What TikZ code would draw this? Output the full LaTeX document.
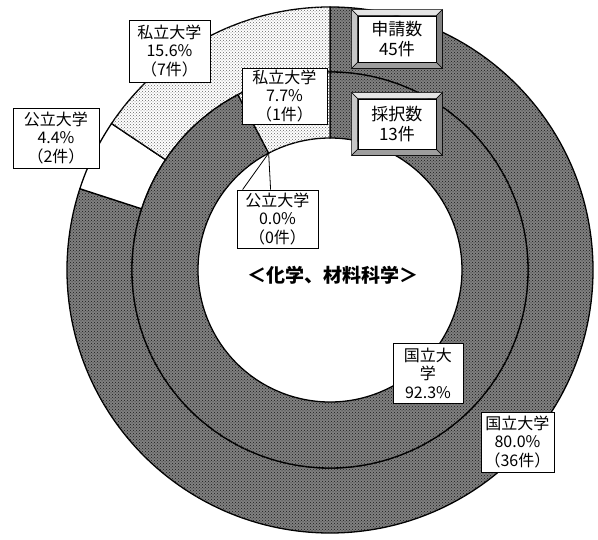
\documentclass[tikz,border=0pt]{standalone}
\usepackage{fontspec}
\setmainfont{Noto Sans CJK JP}
\usetikzlibrary{patterns,calc}
\newcommand{\ringseg}[5]{%
  \path[#1] (#2:#5) arc[start angle=#2, end angle=#3, radius=#5] -- (#3:#4) arc[start angle=#3, end angle=#2, radius=#4] -- cycle;}
\newcommand{\bevbox}[5]{%
  \node[minimum width=#3, minimum height=#4, inner sep=0pt, draw, line width=0.8pt] (#1) at (#2) {};
  \draw[line width=0.6pt, fill=black!10] (#1.north west) -- (#1.north east) -- ($(#1.north east)+(-6,-6)$) -- ($(#1.north west)+(6,-6)$) -- cycle;
  \draw[line width=0.6pt, fill=black!22] (#1.north west) -- ($(#1.north west)+(6,-6)$) -- ($(#1.south west)+(6,6)$) -- (#1.south west) -- cycle;
  \draw[line width=0.6pt, fill=black!50] (#1.north east) -- ($(#1.north east)+(-6,-6)$) -- ($(#1.south east)+(-6,6)$) -- (#1.south east) -- cycle;
  \draw[line width=0.6pt, fill=black!38] (#1.south west) -- ($(#1.south west)+(6,6)$) -- ($(#1.south east)+(-6,6)$) -- (#1.south east) -- cycle;
  \node[draw, line width=0.6pt, fill=white, minimum width=#3-12, minimum height=#4-12, align=center, inner sep=0pt, font=\fontsize{17}{20}\selectfont] (#1t) at (#2) {#5};}
\begin{document}
\begin{tikzpicture}[x=1pt,y=1pt, font=\fontsize{16}{18.5}\selectfont,
  kokuritsu/.style={fill=black!50, postaction={pattern=crosshatch dots, pattern color=black!90}},
  shiritsu/.style={fill=white, postaction={pattern=crosshatch dots, pattern color=black!60}},
  koritsu/.style={fill=white},
  seg/.style={draw=black, line width=1.3pt},
  lbl/.style={draw=black, fill=white, line width=0.8pt, align=center, inner sep=0pt},
  leader/.style={draw=black, line width=0.8pt}]
\useasboundingbox (-330,-270) rectangle (268,270);
\def\Ro{263}\def\Rm{198}\def\Ri{132}
% outer ring (applications)
\ringseg{kokuritsu,seg}{90}{-198}{\Rm}{\Ro}
\ringseg{koritsu,seg}{-198}{-213.84}{\Rm}{\Ro}
\ringseg{shiritsu,seg}{-213.84}{-270}{\Rm}{\Ro}
% inner ring (adopted)
\ringseg{kokuritsu,seg}{90}{-242.31}{\Ri}{\Rm}
\ringseg{shiritsu,seg}{-242.31}{-270}{\Ri}{\Rm}
\coordinate (p0) at (117.69:\Ri);
% labels
\node[lbl, minimum width=81, minimum height=62] (s1) at (-160.5,219) {私立大学\\15.6\%\\（7件）};
\node[lbl, minimum width=86, minimum height=60] (k1) at (-274,132) {公立大学\\4.4\%\\（2件）};
\node[lbl, minimum width=85, minimum height=56] (s2) at (-45.5,174) {私立大学\\7.7\%\\（1件）};
\node[lbl, minimum width=81, minimum height=58] (k2) at (-52.5,51) {公立大学\\0.0\%\\（0件）};
\coordinate (q1) at ($(k2.north west)+(6,0)$);
\coordinate (q2) at ($(k2.north west)+(34,0)$);
\draw[leader] (p0) -- (q1);
\draw[leader] (p0) -- (q2);
\node[lbl, minimum width=70, minimum height=60] (n2) at (98,-103) {国立大\\学\\92.3\%};
\node[lbl, minimum width=73, minimum height=60] (n1) at (187.5,-172) {国立大学\\80.0\%\\（36件）};
\bevbox{app}{67,231}{90}{58}{申請数\\45件}
\bevbox{adp}{67,146}{90}{62}{採択数\\13件}
\node[font=\fontsize{19}{22}\selectfont\bfseries] (title) at (3,-5) {＜化学、材料科学＞};
\end{tikzpicture}
\end{document}
